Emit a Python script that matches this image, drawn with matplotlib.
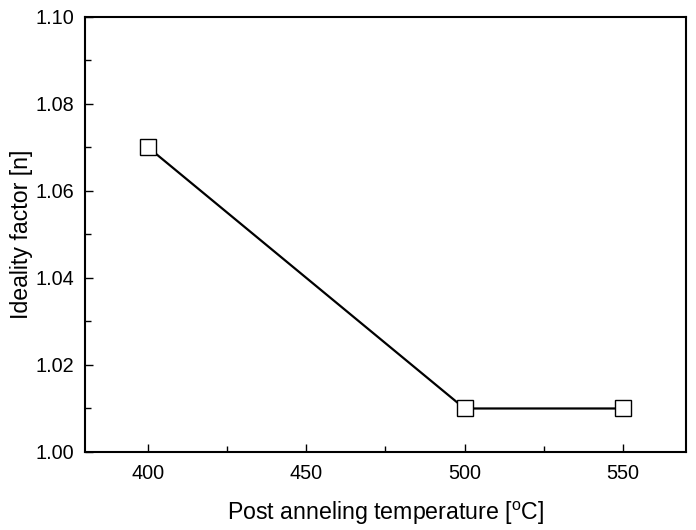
import matplotlib
matplotlib.use('Agg')
import matplotlib.pyplot as plt
from matplotlib.ticker import MultipleLocator, FormatStrFormatter

plt.rcParams['font.family'] = ['Liberation Sans', 'DejaVu Sans']
plt.rcParams['mathtext.fontset'] = 'custom'
plt.rcParams['mathtext.rm'] = 'Liberation Sans'

temperature = [400, 500, 550]
ideality = [1.07, 1.01, 1.01]

fig = plt.figure(figsize=(6.96, 5.30), dpi=100)
ax = fig.add_axes([0.1221, 0.1472, 0.8635, 0.8208])

ax.plot(temperature, ideality, color='black', linewidth=1.6, marker='s',
        markersize=11, markerfacecolor='white', markeredgecolor='black',
        markeredgewidth=1.0)

ax.set_xlim(380, 570)
ax.set_ylim(1.00, 1.10)
ax.xaxis.set_major_locator(MultipleLocator(50))
ax.xaxis.set_minor_locator(MultipleLocator(25))
ax.yaxis.set_major_locator(MultipleLocator(0.02))
ax.yaxis.set_minor_locator(MultipleLocator(0.01))
ax.yaxis.set_major_formatter(FormatStrFormatter('%.2f'))

ax.tick_params(which='both', direction='in', top=False, right=False,
               labelsize=14.3, width=1.0)
ax.tick_params(which='major', length=6, pad=7.5)
ax.tick_params(axis='x', which='major', pad=9)
ax.tick_params(which='minor', length=4)
for s in ax.spines.values():
    s.set_linewidth(1.5)

ax.set_xlabel(r'Post anneling temperature [$^{\mathrm{o}}$C]', fontsize=16.7, labelpad=12)
ax.set_ylabel('Ideality factor [n]', fontsize=16.7, labelpad=2)

plt.savefig('out.png', dpi=100)
